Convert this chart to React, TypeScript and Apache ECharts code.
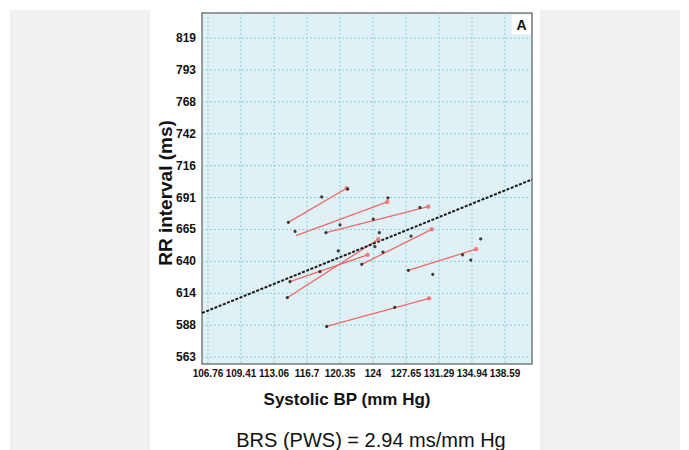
import React, { useEffect, useRef } from "react";
import * as echarts from "echarts";

// Axis ticks (values and printed labels)
const xTickValues = [105.763, 109.41, 113.057, 116.704, 120.351, 123.998, 127.645, 131.292, 134.939, 138.586];
const xTickLabels = ["106.76", "109.41", "113.06", "116.7", "120.35", "124", "127.65", "131.29", "134.94", "138.59"];
const yTickValues = [563.2, 588.8, 614.4, 640.0, 665.6, 691.2, 716.8, 742.4, 768.0, 793.6, 819.2];
const yTickLabels = ["563", "588", "614", "640", "665", "691", "716", "742", "768", "793", "819"];

const xMin = 105.1;
const xMax = 141.57;
const yMin = 557.6;
const yMax = 839.3;

// Red segments: start (x, y) -> end (x, y)
const segStarts = [
  [114.64, 671.3],
  [115.49, 660.6],
  [118.8, 663.0],
  [114.82, 623.8],
  [114.53, 610.8],
  [122.75, 637.6],
  [127.9, 632.8],
  [118.88, 587.7],
];
const segEnds = [
  [121.09, 698.6],
  [125.58, 687.8],
  [130.1, 683.9],
  [123.4, 645.2],
  [124.58, 657.7],
  [130.48, 665.7],
  [135.4, 649.8],
  [130.2, 610.3],
];

// Black data points
const blackPoints = [
  [114.64, 671.3],
  [121.2, 698.0],
  [115.38, 664.0],
  [125.65, 691.0],
  [118.8, 663.0],
  [129.19, 683.2],
  [118.33, 691.7],
  [120.35, 669.3],
  [124.03, 673.9],
  [124.7, 663.0],
  [124.21, 651.8],
  [120.16, 648.3],
  [118.14, 631.7],
  [114.82, 623.8],
  [114.53, 610.8],
  [122.75, 637.6],
  [128.2, 660.3],
  [133.9, 645.2],
  [134.8, 641.0],
  [135.9, 658.0],
  [130.6, 629.6],
  [126.4, 603.1],
  [125.1, 647.4],
  [127.9, 632.8],
  [118.88, 587.7],
];

// Regression line endpoints (BRS slope 2.94 ms/mm Hg)
const regressionLine = [
  [105.1, 598.5],
  [141.57, 705.7],
];

const GRID_COLOR = "#86cfdf";
const RED = "#f06868";

export default function App() {
  const ref = useRef<HTMLDivElement>(null);

  useEffect(() => {
    if (!ref.current) return;
    const chart = echarts.init(ref.current, null, { renderer: "svg" });

    const segSeries = segStarts.map((s, i) => ({
      type: "line",
      data: [s, segEnds[i]],
      symbol: "none",
      lineStyle: { color: RED, width: 1.3 },
      z: 3,
      silent: true,
    }));

    const option = {
      animation: false,
      backgroundColor: "#ffffff",
      grid: {
        left: 202,
        top: 13,
        width: 330,
        height: 351,
        show: true,
        backgroundColor: "#e0f1f6",
        borderColor: "#7a7a7a",
        borderWidth: 1.5,
      },
      xAxis: {
        type: "value",
        min: xMin,
        max: xMax,
        axisLabel: { show: false },
        axisLine: { show: false },
        axisTick: { show: false },
        splitLine: { show: false },
      },
      yAxis: {
        type: "value",
        min: yMin,
        max: yMax,
        axisLabel: { show: false },
        axisLine: { show: false },
        axisTick: { show: false },
        splitLine: { show: false },
      },
      graphic: [
        { type: "rect", z: -10, shape: { x: 10, y: 10, width: 140, height: 440 }, style: { fill: "#eff0f2" } },
        { type: "rect", z: -10, shape: { x: 540, y: 10, width: 140, height: 440 }, style: { fill: "#eff0f2" } },
        { type: "rect", z: 100, shape: { x: 512, y: 15, width: 19, height: 19 }, style: { fill: "#ffffff" } },
        {
          type: "text", z: 101, x: 521.5, y: 25,
          style: { text: "A", font: "bold 14px Arial", fill: "#111", align: "center", verticalAlign: "middle" },
        },
        {
          type: "text", x: 165, y: 193, rotation: Math.PI / 2,
          style: { text: "RR interval (ms)", font: "bold 19px Arial", fill: "#111", align: "center", verticalAlign: "middle" },
        },
        {
          type: "text", x: 347, y: 399,
          style: { text: "Systolic BP (mm Hg)", font: "bold 17px Arial", fill: "#111", align: "center", verticalAlign: "middle" },
        },
        {
          type: "text", x: 371, y: 440,
          style: { text: "BRS (PWS) = 2.94 ms/mm Hg", font: "20px Arial", fill: "#111", align: "center", verticalAlign: "middle" },
        },
      ],
      series: [
        {
          type: "custom",
          clip: false,
          silent: true,
          z: 1,
          data: xTickValues.map((v) => [v, yMin]),
          renderItem: (params: any, api: any) => {
            const cs = params.coordSys;
            const x = api.coord([api.value(0), yMin])[0];
            return {
              type: "group",
              children: [
                {
                  type: "line",
                  shape: { x1: x, y1: cs.y, x2: x, y2: cs.y + cs.height },
                  style: { stroke: GRID_COLOR, lineWidth: 1, lineDash: [2, 2] },
                },
                {
                  type: "text",
                  style: {
                    text: xTickLabels[params.dataIndex],
                    x: x,
                    y: cs.y + cs.height + 4,
                    align: "center",
                    verticalAlign: "top",
                    font: "bold 10px Arial",
                    fill: "#111",
                  },
                },
              ],
            };
          },
        },
        {
          type: "custom",
          clip: false,
          silent: true,
          z: 1,
          data: yTickValues.map((v) => [xMin, v]),
          renderItem: (params: any, api: any) => {
            const cs = params.coordSys;
            const y = api.coord([xMin, api.value(1)])[1];
            return {
              type: "group",
              children: [
                {
                  type: "line",
                  shape: { x1: cs.x, y1: y, x2: cs.x + cs.width, y2: y },
                  style: { stroke: GRID_COLOR, lineWidth: 1, lineDash: [2, 2] },
                },
                {
                  type: "text",
                  style: {
                    text: yTickLabels[params.dataIndex],
                    x: cs.x - 6,
                    y: y,
                    align: "right",
                    verticalAlign: "middle",
                    font: "bold 12px Arial",
                    fill: "#111",
                  },
                },
              ],
            };
          },
        },
        {
          type: "line",
          data: regressionLine,
          symbol: "none",
          z: 4,
          silent: true,
          lineStyle: { color: "#1a1a1a", width: 2, type: [3, 1.5] },
        },
        ...segSeries,
        {
          type: "scatter",
          data: segEnds,
          symbolSize: 4.5,
          z: 5,
          itemStyle: { color: RED },
          silent: true,
        },
        {
          type: "scatter",
          data: blackPoints,
          symbolSize: 3.2,
          z: 6,
          itemStyle: { color: "#111" },
          silent: true,
        },
      ],
    };

    chart.setOption(option as any);
    return () => chart.dispose();
  }, []);

  return (
    <div
      ref={ref}
      style={{ position: "absolute", left: 0, top: 0, width: 689, height: 450 }}
    />
  );
}
